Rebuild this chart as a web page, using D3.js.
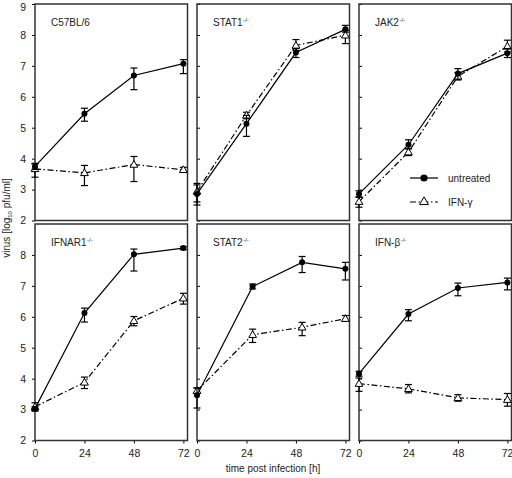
<!DOCTYPE html>
<html>
<head>
<meta charset="utf-8">
<script src="https://cdn.jsdelivr.net/npm/d3@7"></script>
<style>
  html, body { margin: 0; padding: 0; background: #fff; }
  svg { display: block; font-family: "Liberation Sans", Arial, Helvetica, sans-serif; }
</style>
</head>
<body>
<svg id="chart" width="512" height="478"></svg>
<script>
// ---------- data ----------
const panelNames = ["C57BL/6", "STAT1", "JAK2", "IFNAR1", "STAT2", "IFN-β"];
const panelSup = ["", "-/-", "-/-", "-/-", "-/-", "-/-"];
const panelTimes = [
  [0, 24, 48, 72], [0, 24, 48, 72], [0, 24, 48, 72],
  [0, 24, 48, 72], [0, 27, 51, 72], [0, 24, 48, 72]
];
const xTicks = [0, 24, 48, 72];
const yTicksTop = [2, 3, 4, 5, 6, 7, 8, 9];
const yTicksBottom = [2, 3, 4, 5, 6, 7, 8];
const seriesNames = ["untreated", "IFN-γ"];

const untreatedMean = [
  [3.75, 5.45, 6.69, 7.07],
  [2.86, 5.13, 7.43, 8.18],
  [2.86, 4.45, 6.75, 7.41],
  [3.03, 6.12, 8.02, 8.22],
  [3.46, 6.98, 7.76, 7.55],
  [4.16, 6.09, 6.93, 7.11]
];
const untreatedLow = [
  [3.65, 5.21, 6.23, 6.75],
  [2.50, 4.72, 7.27, 8.09],
  [2.76, 4.32, 6.55, 7.27],
  [2.97, 5.83, 7.48, 8.17],
  [3.05, 6.90, 7.43, 7.19],
  [4.08, 5.87, 6.68, 6.87]
];
const untreatedHigh = [
  [3.85, 5.63, 6.93, 7.20],
  [3.15, 5.40, 7.56, 8.31],
  [2.96, 4.61, 6.91, 7.56],
  [3.09, 6.28, 8.19, 8.27],
  [3.70, 7.06, 7.95, 7.76],
  [4.24, 6.23, 7.09, 7.25]
];
const ifnMean = [
  [3.67, 3.54, 3.81, 3.64],
  [2.94, 5.40, 7.66, 7.99],
  [2.61, 4.21, 6.66, 7.63],
  [3.09, 3.88, 5.87, 6.60],
  [3.61, 5.42, 5.66, 5.94],
  [3.84, 3.67, 3.38, 3.32]
];
const ifnLow = [
  [3.40, 3.13, 3.26, 3.56],
  [2.60, 5.29, 7.50, 7.72],
  [2.43, 4.10, 6.55, 7.45],
  [2.95, 3.68, 5.71, 6.41],
  [3.52, 5.17, 5.39, 5.85],
  [3.59, 3.54, 3.27, 3.11]
];
const ifnHigh = [
  [3.83, 3.78, 4.07, 3.72],
  [3.20, 5.50, 7.85, 8.15],
  [2.75, 4.32, 6.78, 7.83],
  [3.22, 4.05, 6.01, 6.76],
  [3.70, 5.60, 5.82, 6.04],
  [4.02, 3.81, 3.48, 3.52]
];

// ---------- layout ----------
const svg = d3.select("#chart");
const colX = [35, 197, 359];
const rowY = [4, 224];
const pw = 152.5, ph = 216.5;
const dashIFN = "6,2.5,1.5,2.5";
const txtCol = "#222";

const x = d3.scaleLinear().domain([0, 74]).range([0, pw]);
const y = d3.scaleLinear().domain([2, 9]).range([ph, 0]);

const triangle = d3.symbol().type(d3.symbolTriangle).size(26);
const triangleLegend = d3.symbol().type(d3.symbolTriangle).size(34);

panelNames.forEach((name, i) => {
  const col = i % 3, row = Math.floor(i / 3);
  const g = svg.append("g").attr("transform", `translate(${colX[col]},${rowY[row]})`);

  // y axis
  const yAx = (col === 0 ? d3.axisLeft(y) : d3.axisRight(y))
    .tickValues(row === 0 ? yTicksTop : yTicksBottom)
    .tickFormat(d3.format("d"))
    .tickSize(3).tickPadding(col === 0 ? 6 : 3);
  const yg = g.append("g").call(yAx);
  yg.select(".domain").remove();
  yg.selectAll("line").attr("stroke", "#000").attr("stroke-width", 1);
  yg.selectAll("text").attr("font-size", 10.5).attr("fill", txtCol)
    .attr("font-family", "Liberation Sans, Arial, sans-serif");
  // keep the top "9" fully inside the picture
  yg.selectAll(".tick").filter(d => d === 9).select("text").attr("dy", "0.62em");
  if (col !== 0) yg.selectAll("text").remove();

  // x axis (bottom row only)
  if (row === 1) {
    const xg = g.append("g").attr("transform", `translate(0,${ph})`)
      .call(d3.axisBottom(x).tickValues(xTicks).tickFormat(d3.format("d")).tickSize(3).tickPadding(6));
    xg.select(".domain").remove();
    xg.selectAll("line").attr("stroke", "#000");
    xg.selectAll("text").attr("font-size", 10.5).attr("fill", txtCol)
      .attr("font-family", "Liberation Sans, Arial, sans-serif");
    if (col === 2) {
      xg.selectAll(".tick").filter(d => d === 72).select("text")
        .attr("text-anchor", "end").attr("dx", 5.5);
    }
  }

  // frame
  g.append("rect").attr("x", 0).attr("y", 0).attr("width", pw).attr("height", ph)
    .attr("fill", "none").attr("stroke", "#333").attr("stroke-width", 1.5);

  // label
  const t = g.append("text").attr("x", 16).attr("y", 22)
    .attr("font-size", 10).attr("fill", txtCol).text(name);
  if (panelSup[i]) {
    t.append("tspan").attr("font-size", 6).attr("fill", txtCol)
      .attr("dy", -4).attr("dx", 0.5).text(panelSup[i]);
  }

  const times = panelTimes[i];
  const series = [
    { mean: ifnMean[i], lo: ifnLow[i], hi: ifnHigh[i], dash: dashIFN, tri: true },
    { mean: untreatedMean[i], lo: untreatedLow[i], hi: untreatedHigh[i], dash: null, tri: false }
  ];
  const line = d3.line().x(d => x(d[0])).y(d => y(d[1]));

  series.forEach(s => {
    const pts = times.map((tt, k) => [tt, s.mean[k], s.lo[k], s.hi[k]]);
    g.append("path").datum(pts).attr("d", line).attr("fill", "none")
      .attr("stroke", "#000").attr("stroke-width", 1.2)
      .attr("stroke-dasharray", s.dash);
    // error bars
    const eb = g.append("g").attr("stroke", "#000").attr("stroke-width", 1.2);
    pts.forEach(p => {
      const cx = x(p[0]);
      eb.append("line").attr("x1", cx).attr("x2", cx).attr("y1", y(p[2])).attr("y2", y(p[3]));
      eb.append("line").attr("x1", cx - 3.5).attr("x2", cx + 3.5).attr("y1", y(p[2])).attr("y2", y(p[2]));
      eb.append("line").attr("x1", cx - 3.5).attr("x2", cx + 3.5).attr("y1", y(p[3])).attr("y2", y(p[3]));
    });
    pts.forEach(p => {
      if (s.tri) {
        g.append("path").attr("d", triangle)
          .attr("transform", `translate(${x(p[0])},${y(p[1]) + 0.5})`)
          .attr("fill", "#fff").attr("stroke", "#000").attr("stroke-width", 1);
      } else {
        g.append("circle").attr("cx", x(p[0])).attr("cy", y(p[1])).attr("r", 3)
          .attr("fill", "#000");
      }
    });
  });
});

// legend
const lg = svg.append("g");
lg.append("line").attr("x1", 410).attr("x2", 438).attr("y1", 178).attr("y2", 178)
  .attr("stroke", "#000").attr("stroke-width", 1.2);
lg.append("circle").attr("cx", 424).attr("cy", 178).attr("r", 3.6).attr("fill", "#000");
lg.append("text").attr("x", 448).attr("y", 181.5).attr("font-size", 10).attr("fill", txtCol).text(seriesNames[0]);
lg.append("line").attr("x1", 410).attr("x2", 438).attr("y1", 202).attr("y2", 202)
  .attr("stroke", "#000").attr("stroke-width", 1.2).attr("stroke-dasharray", dashIFN);
lg.append("path").attr("d", triangleLegend).attr("transform", "translate(424,202)")
  .attr("fill", "#fff").attr("stroke", "#000").attr("stroke-width", 1);
lg.append("text").attr("x", 448).attr("y", 205.5).attr("font-size", 10).attr("fill", txtCol).text(seriesNames[1]);

// axis titles
const yl = svg.append("text").attr("transform", "translate(10,218) rotate(-90)")
  .attr("text-anchor", "middle").attr("font-size", 10).attr("fill", txtCol);
yl.append("tspan").attr("fill", txtCol).text("virus [log");
yl.append("tspan").attr("fill", txtCol).attr("font-size", 6).attr("dy", 2).text("10");
yl.append("tspan").attr("fill", txtCol).attr("dy", -2).text(" pfu/ml]");

svg.append("text").attr("x", 273).attr("y", 472).attr("text-anchor", "middle")
  .attr("font-size", 10).attr("fill", txtCol).text("time post infection [h]");
</script>
</body>
</html>
